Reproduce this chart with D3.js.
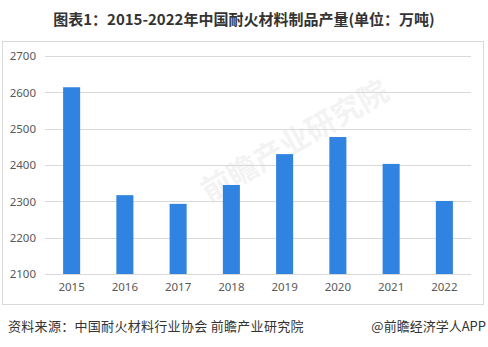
<!DOCTYPE html>
<html><head><meta charset="utf-8">
<script src="https://cdn.jsdelivr.net/npm/d3@7"></script>
<style>body{margin:0;background:#fff;}svg{display:block;}</style>
</head><body>
<script>
const categories = ["2015","2016","2017","2018","2019","2020","2021","2022"];
const values = [2614, 2317, 2293, 2345, 2430, 2477, 2403, 2301];
const yTicks = [2100, 2200, 2300, 2400, 2500, 2600, 2700];
const title = "图表1：2015-2022年中国耐火材料制品产量(单位：万吨)";
const source = "资料来源：中国耐火材料行业协会 前瞻产业研究院";
const credit = "@前瞻经济学人APP";

const W = 488, H = 347;
const svg = d3.select("body").append("svg").attr("width", W).attr("height", H);
const font = "'Microsoft YaHei','Noto Sans CJK SC',sans-serif";

svg.append("text").attr("x", 244).attr("y", 25).attr("text-anchor", "middle")
  .attr("font-family", font).attr("font-size", 15).attr("font-weight", "bold")
  .attr("fill", "#333").text(title);

svg.append("rect").attr("x", 2.5).attr("y", 41.5).attr("width", 481).attr("height", 263)
  .attr("fill", "none").attr("stroke", "#d9d9d9");

// watermark
svg.append("text").attr("transform", "translate(300,150) rotate(-30)").attr("text-anchor", "middle")
  .attr("font-family", font).attr("font-size", 30).attr("font-weight", "bold")
  .attr("fill", "#000").attr("opacity", 0.045).text("前瞻产业研究院");

const x = d3.scaleBand().domain(categories).range([45, 471]).paddingInner(0.68).paddingOuter(0.34);
const y = d3.scaleLinear().domain([2100, 2700]).range([274, 56]);

const grid = svg.append("g");
grid.selectAll("line").data(yTicks).join("line")
  .attr("x1", 45).attr("x2", 471).attr("y1", d => Math.round(y(d)) + 0.5).attr("y2", d => Math.round(y(d)) + 0.5)
  .attr("stroke", "#d9d9d9");

const yAxis = svg.append("g").attr("transform", "translate(36,0)")
  .call(d3.axisLeft(y).tickValues(yTicks).tickSize(0).tickPadding(0).tickFormat(d3.format("d")));
yAxis.select(".domain").remove();
yAxis.selectAll("text").attr("font-family", "'Microsoft YaHei','Noto Sans',sans-serif").attr("font-size", 11.5).attr("fill", "#595959");

svg.append("g").selectAll("rect").data(values).join("rect")
  .attr("x", (d, i) => x(categories[i])).attr("width", x.bandwidth())
  .attr("y", d => y(d)).attr("height", d => y(2100) - y(d))
  .attr("fill", "#3183e2");

const xAxis = svg.append("g").attr("transform", "translate(0,274)")
  .call(d3.axisBottom(x).tickSize(0).tickPadding(9));
xAxis.select(".domain").remove();
xAxis.selectAll("text").attr("font-family", "'Microsoft YaHei','Noto Sans',sans-serif").attr("font-size", 11.5).attr("fill", "#595959");

svg.append("text").attr("x", 8).attr("y", 331).attr("font-family", font).attr("font-size", 13)
  .attr("letter-spacing", 0.3).attr("fill", "#333").text(source);
svg.append("text").attr("x", 486).attr("y", 331).attr("text-anchor", "end").attr("font-family", font).attr("font-size", 13)
  .attr("fill", "#333").text(credit);
</script>
</body></html>
